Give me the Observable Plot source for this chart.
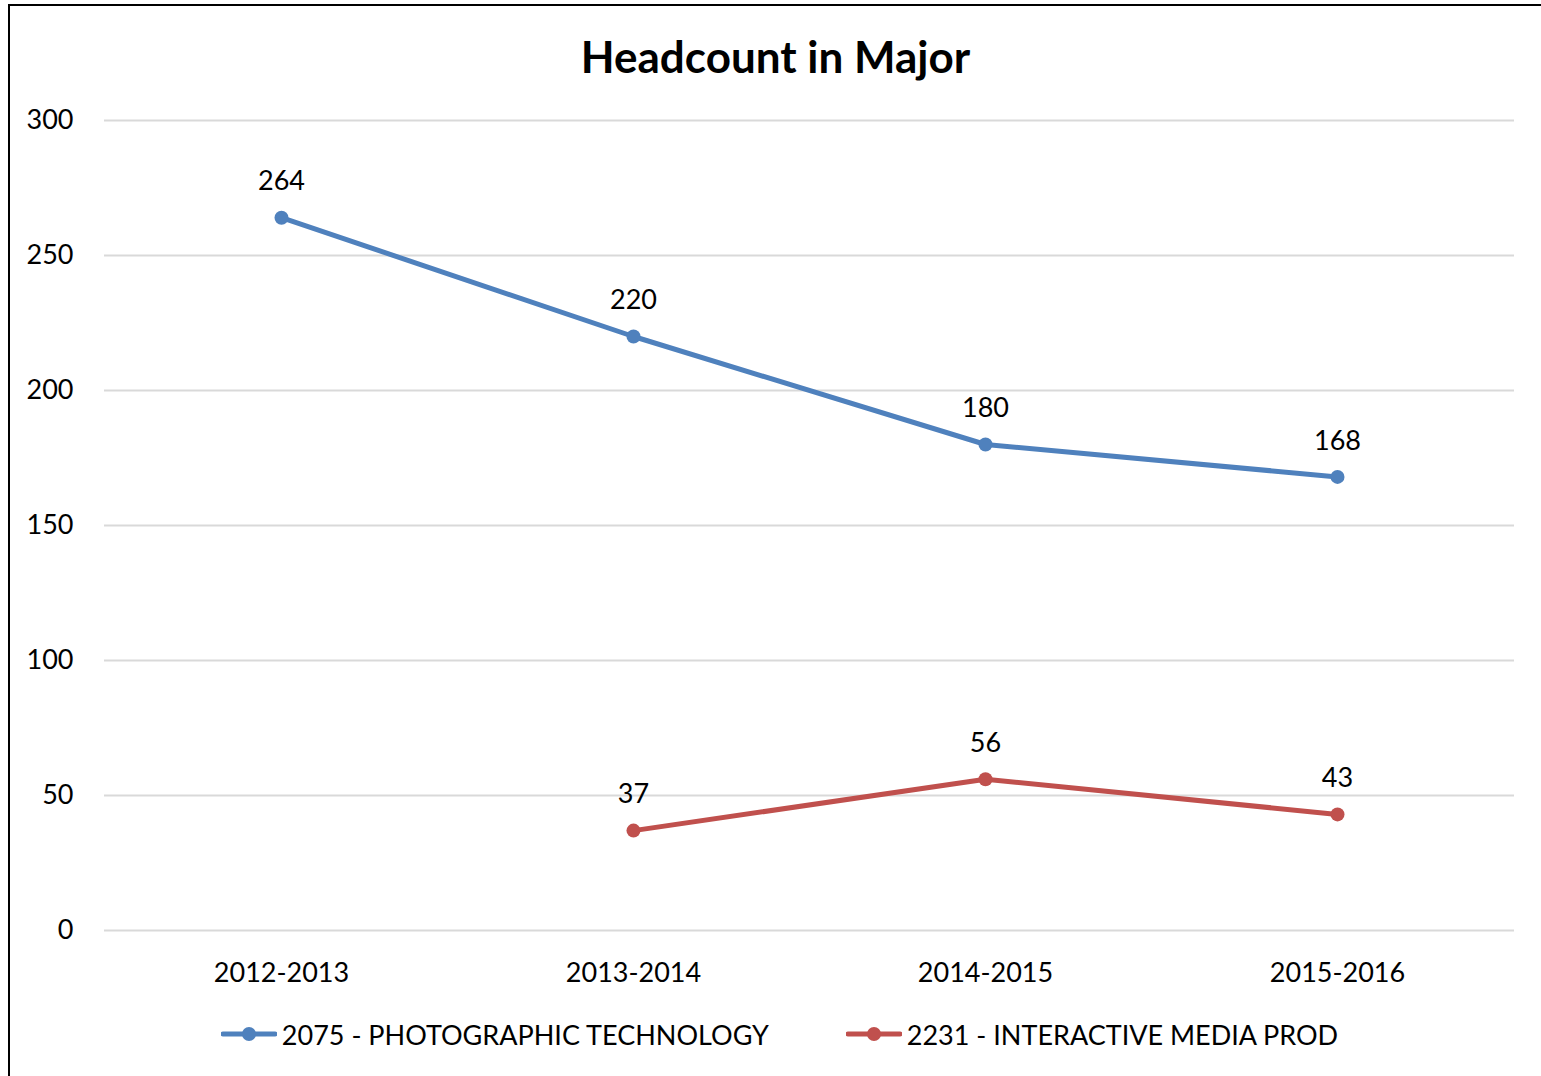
<!DOCTYPE html>
<html>
<head>
<meta charset="utf-8">
<script src="https://cdn.jsdelivr.net/npm/d3@7"></script>
<script src="https://cdn.jsdelivr.net/npm/@observablehq/plot@0.6"></script>
<style>
  html, body { margin: 0; padding: 0; background: #fff; overflow: hidden; }
  body { width: 1541px; height: 1076px; position: relative; font-family: Lato, "Open Sans", sans-serif; }
  #frame { position: absolute; left: 8px; top: 4px; width: 1560px; height: 1100px; border: 2.5px solid #000; box-sizing: border-box; }
  #title { position: absolute; left: 0; top: 0; width: 1551px; height: 90px; line-height: 112px; text-align: center; font-weight: bold; font-size: 44px; color: #000; }
  #chart { position: absolute; left: 0; top: 90px; }
  #legend { position: absolute; left: 9px; top: 1010px; width: 1541px; height: 48px; display: flex; justify-content: center; align-items: center; font-size: 27px; color: #000; }
  .item { display: flex; align-items: center; }
  .item + .item { margin-left: 77px; }
  .item svg { margin-right: 5px; }
</style>
</head>
<body>
<div id="frame"></div>
<div id="title">Headcount in Major</div>
<div id="chart"></div>
<div id="legend"></div>
<script>
const years = ["2012-2013", "2013-2014", "2014-2015", "2015-2016"];
const photoValues = [264, 220, 180, 168];
const mediaValues = [null, 37, 56, 43];
const seriesNames = ["2075 - PHOTOGRAPHIC TECHNOLOGY", "2231 - INTERACTIVE MEDIA PROD"];
const seriesColors = ["#4F81BD", "#C0504D"];
const yTicks = [0, 50, 100, 150, 200, 250, 300];

const rows = [];
[photoValues, mediaValues].forEach((vals, s) => {
  vals.forEach((v, i) => rows.push({series: seriesNames[s], year: years[i], value: v}));
});
const defined = rows.filter(d => d.value != null);

const chart = Plot.plot({
  width: 1541,
  height: 910,
  marginLeft: 104,
  marginRight: 27,
  marginTop: 30,
  marginBottom: 70,
  style: {fontFamily: "Lato, 'Open Sans', sans-serif", fontSize: "27px", color: "#000", background: "transparent"},
  x: {type: "point", domain: years, padding: 0.5, label: null},
  y: {domain: [0, 300], ticks: yTicks, label: null},
  color: {domain: seriesNames, range: seriesColors},
  marks: [
    Plot.gridY(yTicks, {stroke: "#d9d9d9", strokeWidth: 2, strokeOpacity: 1}),
    Plot.axisY({ticks: yTicks, tickSize: 0, tickPadding: 31, label: null}),
    Plot.axisX({tickSize: 0, tickPadding: 32, label: null}),
    Plot.line(defined, {x: "year", y: "value", z: "series", stroke: "series", strokeWidth: 5, curve: "linear"}),
    Plot.dot(defined, {x: "year", y: "value", fill: "series", r: 7, stroke: "none"}),
    Plot.text(defined, {x: "year", y: "value", text: d => String(d.value), dy: -36, fill: "#000", fontSize: 27})
  ]
});
document.getElementById("chart").appendChild(chart);

const legend = document.getElementById("legend");
seriesNames.forEach((name, i) => {
  const item = document.createElement("div");
  item.className = "item";
  const ns = "http://www.w3.org/2000/svg";
  const svg = document.createElementNS(ns, "svg");
  svg.setAttribute("width", 56);
  svg.setAttribute("height", 20);
  const line = document.createElementNS(ns, "line");
  line.setAttribute("x1", 2); line.setAttribute("x2", 54);
  line.setAttribute("y1", 10); line.setAttribute("y2", 10);
  line.setAttribute("stroke", seriesColors[i]);
  line.setAttribute("stroke-width", 5);
  line.setAttribute("stroke-linecap", "round");
  const c = document.createElementNS(ns, "circle");
  c.setAttribute("cx", 28); c.setAttribute("cy", 10); c.setAttribute("r", 7);
  c.setAttribute("fill", seriesColors[i]);
  svg.appendChild(line); svg.appendChild(c);
  const span = document.createElement("span");
  span.textContent = name;
  item.appendChild(svg); item.appendChild(span);
  legend.appendChild(item);
});
</script>
</body>
</html>
